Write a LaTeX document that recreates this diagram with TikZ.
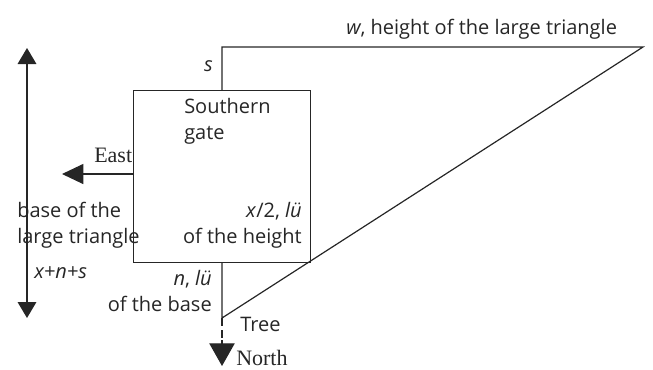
\documentclass[tikz,border=0pt]{standalone}
\usepackage{fontspec}
\setmainfont{Liberation Serif}
\setsansfont{Open Sans}
\usetikzlibrary{arrows.meta}
\begin{document}
\begin{tikzpicture}[x=0.75pt,y=-0.75pt,
  ln/.style={line width=0.9pt,draw=black!85},
  tri/.style={-{Triangle[length=16pt,width=15pt]}},
  trisml/.style={{Triangle[length=12pt,width=14pt]}-{Triangle[length=12pt,width=14pt]}},
  lab/.style={font=\sffamily\fontsize{15}{19}\selectfont,inner sep=0pt,text=black!85},
  ilab/.style={font=\sffamily\itshape\fontsize{15}{19}\selectfont,inner sep=0pt,text=black!85},
  slab/.style={font=\rmfamily\fontsize{16.5}{19}\selectfont,inner sep=0pt,text=black!85}]
\useasboundingbox (0,0) rectangle (653,369);
\coordinate (topL) at (222,47);
\coordinate (topR) at (643,47);
\coordinate (tree) at (222,318);
\coordinate (sqtop) at (222,90);
\coordinate (sqbot) at (222,262);
\coordinate (eastend) at (133,174);
\coordinate (easttip) at (62,174);
\coordinate (northtip) at (222,366);
\coordinate (up) at (27,48);
\coordinate (down) at (27,318);
\node[ln,draw,minimum width=177*0.75pt,minimum height=172*0.75pt,inner sep=0pt,anchor=north west] (sq) at (133,90) {};
\draw[ln] (sqtop) -- (topL) -- (topR) -- (tree) -- (sqbot);
\draw[ln,tri] (eastend) -- (easttip);
\draw[ln,dashed,dash pattern=on 6pt off 3pt] (tree) -- (222,343);
\draw[ln,-{Triangle[length=17pt,width=19pt]}] (222,340) -- (northtip);
\draw[ln,trisml] (down) -- (up);
\node[ilab,anchor=base east] (s) at (213,71) {s};
\node[lab,anchor=base west] (sg1) at (184,113) {Southern};
\node[lab,anchor=base west] (sg2) at (184,139) {gate};
\node[slab,anchor=base west] (east) at (94,162) {East};
\node[lab,anchor=base west] (base1) at (17,217) {base of the};
\node[lab,anchor=base west] (base2) at (17,243) {large triangle};
\node[lab,anchor=base east] (xh1) at (302,217) {\textit{x}/2, \textit{lü}};
\node[lab,anchor=base east] (xh2) at (302,243) {of the height};
\node[ilab,anchor=base west] (xns) at (34,278) {x+n+s};
\node[lab,anchor=base east] (nb1) at (212,285) {\textit{n}, \textit{lü}};
\node[lab,anchor=base east] (nb2) at (212,311) {of the base};
\node[lab,anchor=base west] (tr) at (240,331) {Tree};
\node[slab,anchor=base west] (no) at (236,365) {North};
\node[lab,anchor=base west] (w) at (346,34) {\textit{w}, height of the large triangle};
\end{tikzpicture}
\end{document}
